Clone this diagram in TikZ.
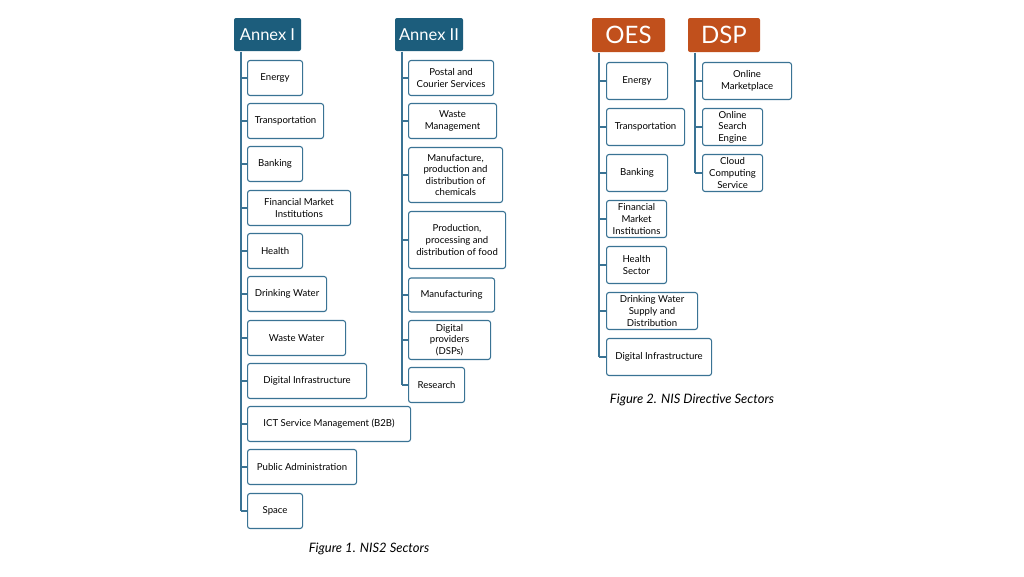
\documentclass[tikz,border=0pt]{standalone}
\usepackage{fontspec}
\setmainfont{Lato}
\usetikzlibrary{positioning}
\definecolor{annexblue}{HTML}{1C5D7C}
\definecolor{oesorange}{HTML}{C1501C}
\definecolor{boxline}{HTML}{3A7394}
\begin{document}
\begin{tikzpicture}[x=1pt,y=-1pt,line width=1.1pt]
  \tikzset{head/.style={text=white,rounded corners=2pt,inner sep=0pt,font=\fontsize{16.5}{16}\selectfont},
           item/.style={draw=boxline,rounded corners=2.5pt,align=center,inner sep=1pt,
                        anchor=west,font=\fontsize{9.6}{11.6}\selectfont},
           tree/.style={draw=boxline}}
  \useasboundingbox (0,0) rectangle (1024,576);

  % headers
  \node[head,fill=annexblue,minimum width=67pt,minimum height=33pt] (A1) at (267.5,34.5) {Annex I};
  \node[head,fill=annexblue,minimum width=68pt,minimum height=33pt] (A2) at (429,34.5) {Annex II};
  \node[head,fill=oesorange,minimum width=73pt,minimum height=34pt,font=\fontsize{24}{24}\selectfont] (O) at (628.5,35) {OES};
  \node[head,fill=oesorange,minimum width=72pt,minimum height=34pt,font=\fontsize{24}{24}\selectfont] (D) at (724,35) {DSP};

  % Annex I
  \foreach \n/\y/\w/\t in {a/78/55/Energy, b/121/76/Transportation, c/164/55/Banking,
      d/208/103/{Financial Market\\Institutions}, e/251/55/Health, f/294/79/Drinking Water,
      g/338/98/Waste Water, h/381/119/Digital Infrastructure, i/424/163/ICT Service Management (B2B),
      j/467/109/Public Administration, k/511/55/Space}{
    \node[item,minimum width=\w pt,minimum height=35pt] (A1\n) at (247,\y) {\t};
    \draw[tree] (241,\y) -- (A1\n.west);
  }
  \draw[tree] (A1.south -| 241,0) -- (241,511);

  % Annex II
  \foreach \n/\y/\w/\h/\t in {a/78/85/35/{Postal and\\Courier Services}, b/121/88/35/{Waste\\Management},
      c/175/94/55/{Manufacture,\\production and\\distribution of\\chemicals},
      d/240/97/57/{Production,\\processing and\\distribution of food},
      e/295/86/34/Manufacturing, f/340/82/39/{Digital\\providers\\(DSPs)}, g/385/56/35/Research}{
    \node[item,minimum width=\w pt,minimum height=\h pt] (A2\n) at (408,\y) {\t};
    \draw[tree] (402,\y) -- (A2\n.west);
  }
  \draw[tree] (A2.south -| 402,0) -- (402,385);

  % OES
  \foreach \n/\y/\w/\t in {a/81/61/Energy, b/127/78/Transportation, c/173/61/Banking,
      d/219/60/{Financial\\Market\\Institutions}, e/265/60/{Health\\Sector},
      f/311/91/{Drinking Water\\Supply and\\Distribution}, g/357/105/Digital Infrastructure}{
    \node[item,minimum width=\w pt,minimum height=37pt] (O\n) at (606,\y) {\t};
    \draw[tree] (599,\y) -- (O\n.west);
  }
  \draw[tree] (O.south -| 599,0) -- (599,357);

  % DSP
  \foreach \n/\y/\w/\t in {a/81/89/{Online\\Marketplace}, b/127/60/{Online\\Search\\Engine},
      c/173/60/{Cloud\\Computing\\Service}}{
    \node[item,minimum width=\w pt,minimum height=37pt] (D\n) at (702,\y) {\t};
    \draw[tree] (695,\y) -- (D\n.west);
  }
  \draw[tree] (D.south -| 695,0) -- (695,173);

  % captions
  \node[font=\fontsize{13}{13}\selectfont\itshape] (cap1) at (369,549) {Figure 1. NIS2 Sectors};
  \node[font=\fontsize{13}{13}\selectfont\itshape] (cap2) at (692,400) {Figure 2. NIS Directive Sectors};
\end{tikzpicture}
\end{document}
